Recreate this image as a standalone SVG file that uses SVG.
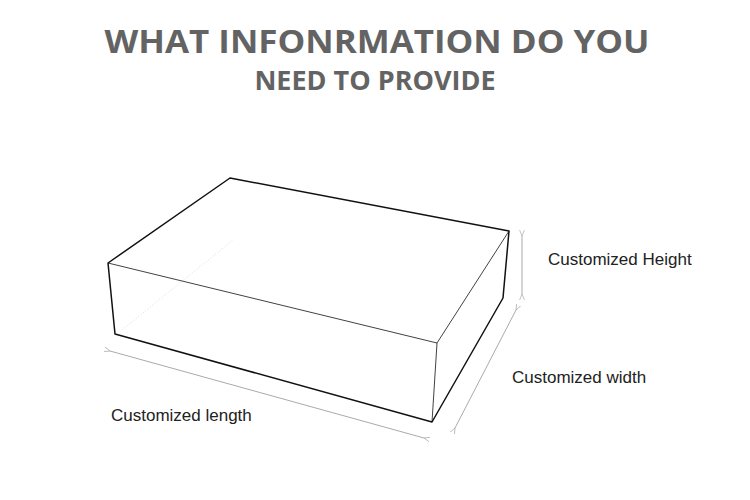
<svg xmlns="http://www.w3.org/2000/svg" width="750" height="500" viewBox="0 0 750 500">
<style>
.t{font-family:"Open Sans","Liberation Sans",sans-serif;font-weight:bold;fill:#636363;text-anchor:middle}
.l{font-family:"Liberation Sans",Arial,sans-serif;font-size:17px;fill:#222}
.e{stroke:#111;fill:none;stroke-linejoin:round}
.d{stroke:#aaa;stroke-width:1;fill:none;marker-start:url(#a);marker-end:url(#a)}
</style>
<defs><marker id="a" viewBox="0 0 10 10" refX="0" refY="5" markerWidth="6" markerHeight="6" orient="auto-start-reverse"><path d="M10,1 L0,5 L10,9" fill="none" stroke="#999"/></marker></defs>
<rect width="750" height="500" fill="#fff"/>
<text class="t" x="377" y="53" font-size="33" textLength="545" lengthAdjust="spacingAndGlyphs">WHAT INFONRMATION DO YOU</text>
<text class="t" x="375" y="90" font-size="27">NEED TO PROVIDE</text>
<g id="box">
<path d="M122,330 L233,240" stroke="#ddd" stroke-dasharray="1,2" fill="none"/>
<path class="e" stroke-width="1.5" d="M108,263 L230,178 L509,231 L503,298 L432,422 L115,334 Z"/>
<path class="e" stroke-width="0.8" d="M108,263 L437,343 L509,231 M437,343 L432,422"/>
</g>
<g id="connectors">
<line class="d" x1="522" y1="236" x2="522" y2="294"/>
<line class="d" x1="516" y1="310" x2="455" y2="428"/>
<line class="d" x1="110" y1="351" x2="424" y2="438"/>
</g>
<g id="labels">
<text class="l" x="548" y="265">Customized Height</text>
<text class="l" x="512" y="383">Customized width</text>
<text class="l" x="111" y="421">Customized length</text>
</g>
</svg>
